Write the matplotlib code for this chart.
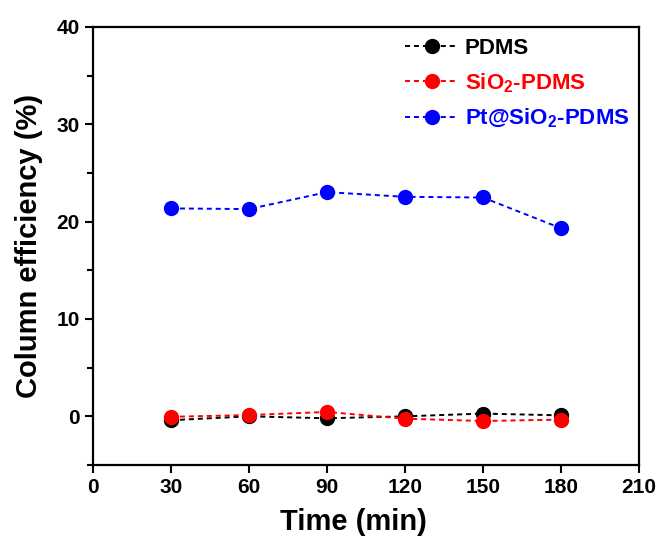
import numpy as np
import matplotlib
matplotlib.use('Agg')
import matplotlib.pyplot as plt
from matplotlib.ticker import MultipleLocator

plt.rcParams['font.family'] = 'Liberation Sans'
plt.rcParams['font.weight'] = 'bold'
plt.rcParams['mathtext.fontset'] = 'custom'
plt.rcParams['mathtext.rm'] = 'Liberation Sans:bold'
plt.rcParams['mathtext.default'] = 'rm'

# Data
time = [30, 60, 90, 120, 150, 180]
pdms = [-0.4, 0.0, -0.2, 0.0, 0.28, 0.1]
sio2_pdms = [-0.05, 0.13, 0.45, -0.24, -0.48, -0.34]
pt_sio2_pdms = [21.36, 21.29, 23.03, 22.55, 22.48, 19.33]

labels = ['PDMS', r'SiO$_2$-PDMS', r'Pt@SiO$_2$-PDMS']
colors = ['black', 'red', 'blue']

fig = plt.figure(figsize=(6.62, 5.39), dpi=100)
ax = fig.add_axes([0.1405, 0.1373, 0.8245, 0.8127])

for y, lab, c in zip([pdms, sio2_pdms, pt_sio2_pdms], labels, colors):
    ax.plot(time, y, color=c, linestyle=(0, (2.6, 2.0)), linewidth=1.4,
            marker='o', markersize=10, label=lab)

ax.set_xlim(0, 210)
ax.set_ylim(-5, 40)
ax.set_xticks(np.arange(0, 211, 30))
ax.set_yticks(np.arange(0, 41, 10))
ax.yaxis.set_minor_locator(MultipleLocator(5))
ax.tick_params(axis='both', which='major', direction='out', length=6, width=1.5,
               labelsize=15)
ax.tick_params(axis='y', which='minor', direction='out', length=4, width=1.5)
for s in ax.spines.values():
    s.set_linewidth(1.6)

ax.set_xlabel('Time (min)', fontsize=21, fontweight='bold')
ax.xaxis.set_label_coords(0.477, -0.098)
ax.set_ylabel('Column efficiency (%)', fontsize=21, fontweight='bold', labelpad=10)

leg = ax.legend(loc='upper left', bbox_to_anchor=(405 / 662, 1 - 38 / 539),
                bbox_transform=fig.transFigure, frameon=False, fontsize=16,
                handlelength=2.4, handletextpad=0.3, labelspacing=0.55,
                borderpad=0, borderaxespad=0, labelcolor='linecolor')

fig.savefig('out.png', dpi=100)
